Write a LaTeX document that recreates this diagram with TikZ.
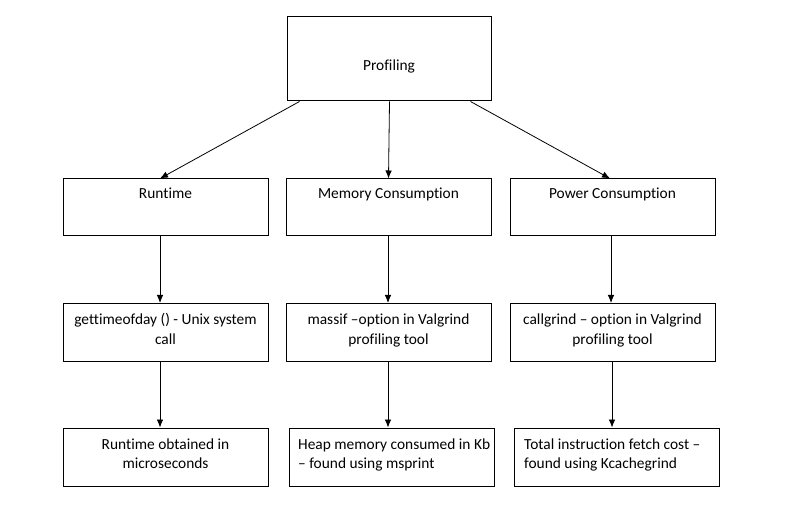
\documentclass[tikz,border=0pt]{standalone}
\usepackage{fontspec}
\setmainfont{Carlito}[Ligatures=NoCommon]
\usetikzlibrary{positioning,arrows.meta}
\begin{document}
\begin{tikzpicture}[x=1pt,y=-1pt,
  box/.style={draw,line width=1pt,minimum width=205,minimum height=57,inner sep=0pt},
  lbl/.style={font=\fontsize{15.4}{19.5}\selectfont,inner sep=0pt,align=center},
  lleft/.style={font=\fontsize{15.4}{19.5}\selectfont,inner sep=0pt,align=left},
  arr/.style={-{Latex[length=8pt,width=6.5pt]},line width=0.8pt}]
\useasboundingbox (0,0) rectangle (789,518);
% top box
\node[box,minimum width=204,minimum height=84] (prof) at (389,59) {};
\node[lbl,anchor=base] (proflbl) at (prof.center |- 0,70.5) {Profiling};
% first row
\node[box] (run) at (165.5,207.5) {};
\node[box] (mem) at (388.5,207.5) {};
\node[box] (pow) at (612.5,207.5) {};
\node[lbl,anchor=base] (runlbl) at (run.center |- 0,199) {Runtime};
\node[lbl,anchor=base] (memlbl) at (mem.center |- 0,199) {Memory Consumption};
\node[lbl,anchor=base] (powlbl) at (pow.center |- 0,199) {Power Consumption};
% second row (base = last line)
\node[box,minimum height=58] (gtod) at (165.5,332.5) {};
\node[box,minimum height=58] (massif) at (388.5,332.5) {};
\node[box,minimum height=58] (cgrind) at (612.5,332.5) {};
\node[lbl,anchor=base] (gtodlbl) at (gtod.center |- 0,344) {gettimeofday () - Unix system\\call};
\node[lbl,anchor=base] (massiflbl) at (massif.center |- 0,344) {massif {\textendash}option in Valgrind\\profiling tool};
\node[lbl,anchor=base] (cgrindlbl) at (cgrind.center |- 0,344) {callgrind {\textendash} option in Valgrind\\profiling tool};
% third row
\node[box,minimum height=58] (usec) at (165.5,457) {};
\node[box,minimum height=58] (heap) at (391.5,457) {};
\node[box,minimum height=58] (fetch) at (616.5,457) {};
\node[lbl,anchor=base] (useclbl) at (usec.center |- 0,468.5) {Runtime obtained in\\microseconds};
\node[lleft,anchor=base west] (heaplbl) at (298,468.5) {Heap memory consumed in Kb\\{\textendash} found using msprint};
\node[lleft,anchor=base west] (fetchlbl) at (524,468.5) {Total instruction fetch cost {\textendash}\\found using Kcachegrind};
% arrows
\draw[arr] ([xshift=13]prof.south west) -- ([xshift=-5.5]run.north);
\draw[arr] ([xshift=0.5]prof.south) -- (mem.north);
\draw[arr] ([xshift=-21]prof.south east) -- ([xshift=-2.5]pow.north);
\foreach \a/\b/\x in {run/gtod/160, mem/massif/388, pow/cgrind/611, gtod/usec/160, massif/heap/388, cgrind/fetch/612}
\draw[arr] (\a.south -| \x,0) -- (\b.north -| \x,0);
\end{tikzpicture}
\end{document}
